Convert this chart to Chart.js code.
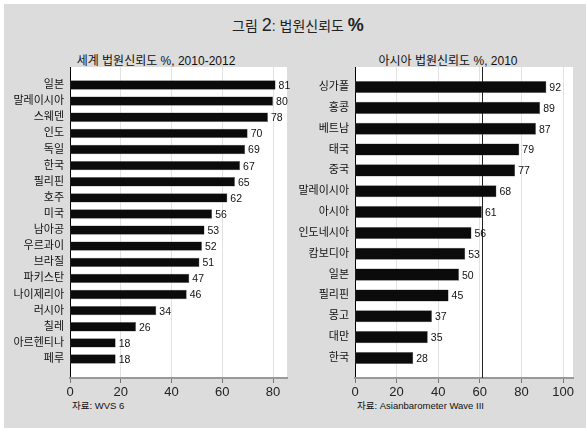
<!DOCTYPE html>
<html>
<head>
<meta charset="utf-8">
<script src="https://cdn.jsdelivr.net/npm/chart.js@4.4.0/dist/chart.umd.min.js"></script>
<style>
  html, body { margin: 0; padding: 0; background: #fff; }
  body { width: 586px; height: 430px; position: relative; overflow: hidden;
         font-family: "Liberation Sans", "Noto Sans CJK KR", sans-serif; color: #111; }
  #frame { position: absolute; left: 4px; top: 4px; width: 582px; height: 424px; background: #dcdcdc; }
  .abs { position: absolute; white-space: nowrap; }
  #title { left: 0; width: 596px; top: 15px; text-align: center; font-size: 14px; color: #222; }
  #title b { font-weight: normal; font-size: 18px; }
  #title b.pct { font-weight: bold; }
  .sub { top: 51px; font-size: 12px; text-align: center; color: #111; }
  .src { top: 398px; font-size: 9.5px; color: #111; }
  canvas { position: absolute; }
</style>
</head>
<body>
<div id="frame"></div>
<div id="title" class="abs">그림 <b>2</b>: 법원신뢰도 <b class="pct">%</b></div>
<div class="abs sub" style="left:56px;width:200px;">세계 법원신뢰도 %, 2010-2012</div>
<div class="abs sub" style="left:348px;width:200px;">아시아 법원신뢰도 %, 2010</div>
<div class="abs src" style="left:72px;">자료: WVS 6</div>
<div class="abs src" style="left:357px;">자료: Asianbarometer Wave III</div>

<div style="position:absolute;left:0;top:60px;width:295px;height:345px;"><canvas id="worldChart"></canvas></div>
<div style="position:absolute;left:290px;top:60px;width:296px;height:345px;"><canvas id="asiaChart"></canvas></div>

<script>
// 세계 (WVS 6, 2010-2012)
const worldCountries = ['일본', '말레이시아', '스웨덴', '인도', '독일', '한국', '필리핀', '호주', '미국',
    '남아공', '우르과이', '브라질', '파키스탄', '나이제리아', '러시아', '칠레', '아르헨티나', '페루'];
const worldTrust = [81, 80, 78, 70, 69, 67, 65, 62, 56, 53, 52, 51, 47, 46, 34, 26, 18, 18];
const worldTicks = [0, 20, 40, 60, 80];

// 아시아 (Asianbarometer Wave III, 2010)
const asiaCountries = ['싱가폴', '홍콩', '베트남', '태국', '중국', '말레이시아', '아시아', '인도네시아',
    '캄보디아', '일본', '필리핀', '몽고', '대만', '한국'];
const asiaTrust = [92, 89, 87, 79, 77, 68, 61, 56, 53, 50, 45, 37, 35, 28];
const asiaTicks = [0, 20, 40, 60, 80, 100];

const FONT = '"Liberation Sans", "Noto Sans CJK KR", sans-serif';

const plotBackground = {
    id: 'plotBackground',
    beforeDraw(chart) {
        const a = chart.chartArea;
        const ctx = chart.ctx;
        ctx.save();
        ctx.fillStyle = '#ffffff';
        ctx.fillRect(a.left, a.top, a.right - a.left, a.bottom - a.top);
        ctx.restore();
    }
};

const valueLabels = {
    id: 'valueLabels',
    afterDatasetsDraw(chart) {
        const ctx = chart.ctx;
        const meta = chart.getDatasetMeta(0);
        ctx.save();
        ctx.font = '10.5px ' + FONT;
        ctx.fillStyle = '#111';
        ctx.textBaseline = 'middle';
        meta.data.forEach((bar, i) => {
            ctx.fillText(chart.data.datasets[0].data[i].x, bar.x + 3, bar.y + 1);
        });
        ctx.restore();
    }
};

// 아시아 평균 기준선
const meanLine = {
    id: 'meanLine',
    beforeDatasetsDraw(chart, args, opts) {
        if (opts.value == null) return;
        const a = chart.chartArea;
        const x = Math.round(chart.scales.x.getPixelForValue(opts.value)) + 0.5;
        const ctx = chart.ctx;
        ctx.save();
        ctx.strokeStyle = '#222';
        ctx.lineWidth = 1;
        ctx.beginPath();
        ctx.moveTo(x, a.top);
        ctx.lineTo(x, a.bottom);
        ctx.stroke();
        ctx.restore();
    }
};

function noPad(s) {
    s.paddingTop = 0;
    s.paddingBottom = 0;
    s.paddingLeft = 0;
    s.paddingRight = 0;
}

function makeChart(canvasId, labels, values, ticks, xMax, yPad, axisWidth, padRight, meanValue) {
    const n = labels.length;
    return new Chart(document.getElementById(canvasId), {
        type: 'bar',
        data: {
            datasets: [{
                data: values.map((v, i) => ({ x: v, y: i })),
                backgroundColor: '#0b0b0b',
                borderColor: '#6a6a6a',
                borderWidth: 0.5,
                borderSkipped: false,
                categoryPercentage: 1,
                barPercentage: 0.58
            }]
        },
        options: {
            indexAxis: 'y',
            responsive: true,
            maintainAspectRatio: false,
            animation: false,
            layout: { padding: { top: 7, right: padRight, left: 0, bottom: 0 } },
            plugins: {
                legend: { display: false },
                tooltip: { enabled: false },
                meanLine: { value: meanValue }
            },
            scales: {
                y: {
                    type: 'linear',
                    offset: false,
                    reverse: true,
                    min: -yPad[0],
                    max: n - 1 + yPad[1],
                    afterBuildTicks: (s) => { s.ticks = labels.map((_, i) => ({ value: i })); },
                    afterFit: (s) => { s.width = axisWidth; noPad(s); },
                    ticks: {
                        autoSkip: false,
                        padding: 6,
                        font: { family: FONT, size: 11 },
                        color: '#111',
                        callback: (v) => labels[v]
                    },
                    grid: { display: false, drawTicks: false, offset: false },
                    border: { color: '#000', width: 1 }
                },
                x: {
                    type: 'linear',
                    min: 0,
                    max: xMax,
                    afterBuildTicks: (s) => { s.ticks = ticks.map((v) => ({ value: v })); },
                    afterFit: (s) => { s.height = 27; noPad(s); },
                    ticks: {
                        padding: 2,
                        font: { family: FONT, size: 13 },
                        color: '#222',
                        maxRotation: 0
                    },
                    grid: { color: '#e2e2e2', lineWidth: 1, tickLength: 5, tickColor: '#777' },
                    border: { color: '#999', width: 2 }
                }
            }
        },
        plugins: [plotBackground, meanLine, valueLabels]
    });
}

makeChart('worldChart', worldCountries, worldTrust, worldTicks, 85.5, [1.12, 1.18], 70, 8, null);
makeChart('asiaChart', asiaCountries, asiaTrust, asiaTicks, 104.8, [0.96, 0.96], 65, 13,
    asiaTrust[asiaCountries.indexOf('아시아')]);
</script>
</body>
</html>
